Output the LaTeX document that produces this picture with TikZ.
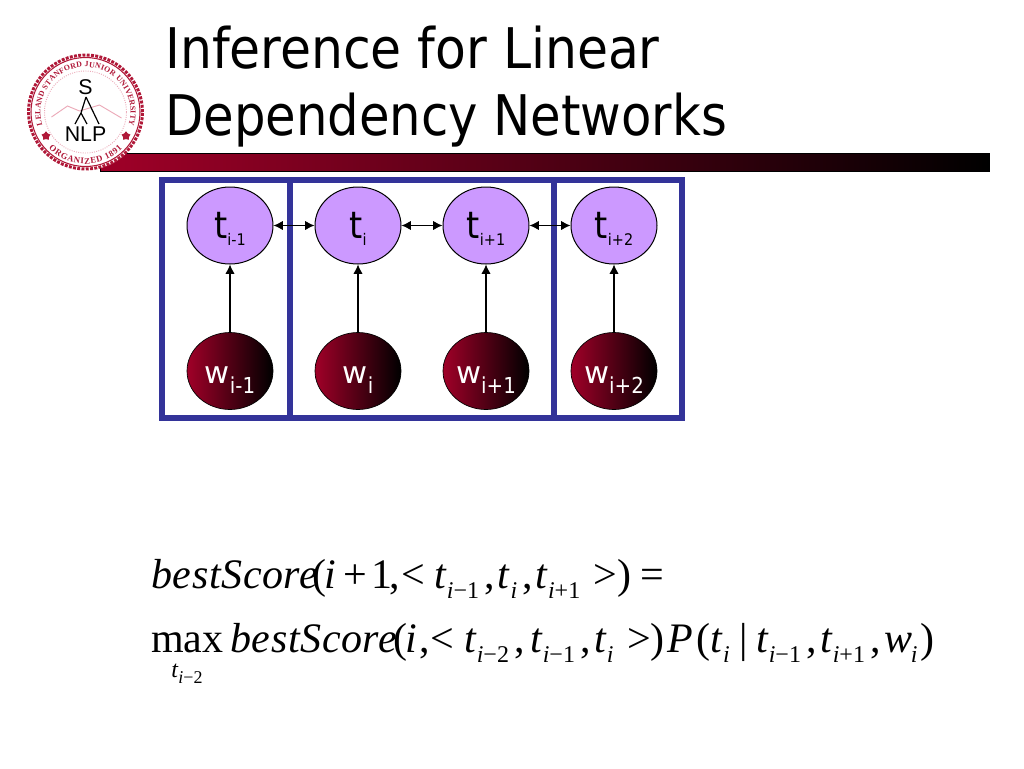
\documentclass[tikz,border=0pt]{standalone}
\usepackage{fontspec}
\usetikzlibrary{arrows.meta}
\usetikzlibrary{shapes.geometric}
\usetikzlibrary{decorations.text}
\newfontfamily\slidefont{DejaVu Sans Condensed}
\newfontfamily\slidewide{DejaVu Sans}
\newfontfamily\slidenarrow[FakeStretch=0.986]{DejaVu Sans Condensed}
\newfontfamily\formulafont{Liberation Serif}
\newfontfamily\formulawide[LetterSpace=1.5]{Liberation Serif}
\newfontfamily\logofont{Liberation Sans}
\newcommand{\pxk}[1]{\kern#1\dimexpr0.75pt\relax}
\newcommand{\fsub}[1]{\raisebox{-7.5pt}{\fontsize{18}{18}\selectfont #1}}
\newcommand{\smi}{\textit{i}}
\newcommand{\itt}{\textit{t}}
\newcommand{\bscore}{{\formulawide\itshape bestScore}}
\newcommand{\tlabel}[2]{\smash{\raisebox{-10.1pt}{\fontsize{28}{28}\selectfont #1\raisebox{-5pt}{\fontsize{12}{12}\selectfont #2}}}}
\newcommand{\wlabel}[2]{\smash{\raisebox{-9pt}{{\slidewide\fontsize{23}{23}\selectfont #1}\raisebox{-7.5pt}{\fontsize{16.5}{16.5}\selectfont #2}}}}
\definecolor{slideblue}{RGB}{51,51,153}
\definecolor{slidepurple}{RGB}{204,153,255}
\definecolor{slidered}{RGB}{160,0,40}
\definecolor{sealred}{RGB}{176,24,56}
\definecolor{sealpink}{RGB}{236,170,185}
\tikzset{
  tagnode/.style={ellipse,draw=black,line width=0.75pt,fill=slidepurple,minimum width=64.5pt,minimum height=57.75pt,inner sep=0pt,text=black,font=\slidefont},
  wordnode/.style={ellipse,draw=black,line width=0.5pt,left color=slidered,middle color=slidered!80!black,right color=black,minimum width=64.5pt,minimum height=57.75pt,inner sep=0pt,text=white,font=\slidefont},
  window/.style={draw=slideblue,line width=5pt},
  link/.style={line width=0.9pt,{Latex[length=7pt,width=7pt]}-{Latex[length=7pt,width=7pt]}},
  emit/.style={line width=0.8pt,-{Latex[length=7pt,width=7pt]}},
  titletext/.style={anchor=base west,inner sep=0pt,font=\slidefont\fontsize{42}{42}\selectfont},
  formula/.style={anchor=base west,inner sep=0pt,font=\formulafont\fontsize{31.5}{31.5}\selectfont},
}
\begin{document}
\begin{tikzpicture}[x=0.75pt,y=0.75pt,yscale=-1,xscale=1]
\useasboundingbox (0,0) rectangle (1024,768);

%Shape: Bar
\draw [draw=black,line width=0.5pt,left color=slidered,middle color=slidered!75!black,right color=black] (100,153.5) rectangle (989.5,171) ;

%Shape: Seal
\begin{scope}[shift={(85.5,112)},yscale=-1]
\fill [white] (0,0) circle (58) ;
\draw [sealred,line width=2.2pt,densely dotted] (0,0) circle (57) ;
\draw [sealred,line width=0.8pt] (0,0) circle (54.5) ;
\draw [sealpink,line width=0.7pt,densely dotted] (0,0) circle (41) ;
\draw [sealpink,line width=0.7pt] (-34,-5) -- (-18,6) -- (-6,1) -- (14,7) -- (36,-6) ;
\path [decorate,decoration={text along path,text align={fit to path},text={|\formulafont\bfseries\fontsize{5.9}{5.9}\selectfont\color{sealred}|LELAND STANFORD JUNIOR UNIVERSITY}}] (197:45) arc (197:-17:45) ;
\path [decorate,decoration={text along path,text align={fit to path},text={|\formulafont\bfseries\fontsize{6.5}{6.5}\selectfont\color{sealred}|ORGANIZED 1891}}] (225:52) arc (225:315:52) ;
\draw [black,line width=0.9pt] (0.5,15) -- (13.5,-12) (0.5,15) -- (-4.5,-1) (-4.5,-1) -- (-10.5,-12) (-4.5,-1) -- (1.5,-12) ;
\node (sealS) at (0,25) [inner sep=0pt,text=black,font=\logofont\fontsize{16}{16}\selectfont] {S};
\node (sealNLP) at (0,-22) [inner sep=0pt,text=black,font=\logofont\fontsize{16}{16}\selectfont] {NLP};
\node (starL) at (-39.5,-24) [star,star points=5,fill=sealred,minimum size=7pt,inner sep=0pt] {};
\node (starR) at (40.5,-24) [star,star points=5,fill=sealred,minimum size=7pt,inner sep=0pt] {};
\end{scope}

% Text Node
\node (titleA) at (165,68) [titletext] {Inference for Linear};
% Text Node
\node (titleB) at (165,135) [titletext,font=\slidenarrow\fontsize{42}{42}\selectfont] {Dependency Networks};

%Shape: Rectangle
\draw [window] (162,180) rectangle (290,418) ;
\draw [window] (290,180) rectangle (554,418) ;
\draw [window] (554,180) rectangle (682,418) ;

%Shape: Ellipse
\node (tA) at (230,225.5) [tagnode] {\tlabel{t}{i-1}};
\node (tB) at (358,225.5) [tagnode] {\tlabel{t}{i}};
\node (tC) at (486,225.5) [tagnode] {\tlabel{t}{i+1}};
\node (tD) at (614,225.5) [tagnode] {\tlabel{t}{i+2}};
\node (wA) at (230,371) [wordnode] {\wlabel{w}{i-1}};
\node (wB) at (358,371) [wordnode] {\wlabel{w}{i}};
\node (wC) at (486,371) [wordnode] {\wlabel{w}{i+1}};
\node (wD) at (614,371) [wordnode] {\wlabel{w}{i+2}};

%Straight Lines
\draw [link] (tA) -- (tB) ;
\draw [link] (tB) -- (tC) ;
\draw [link] (tC) -- (tD) ;
\draw [emit] (wA) -- (tA) ;
\draw [emit] (wB) -- (tB) ;
\draw [emit] (wC) -- (tC) ;
\draw [emit] (wD) -- (tD) ;

% Text Node
\node (scoreA) at (151,588) [formula] {\bscore\pxk{-5.7}(\pxk{-2}\smi\pxk{8}+\pxk{3.5}1\pxk{-2.5},\pxk{1.5}<\pxk{9}\itt\fsub{\smi−1}\pxk{5},\pxk{2.5}\itt\pxk{1}\fsub{\smi}\pxk{5.3},\pxk{2.5}\itt\fsub{\smi+1}\pxk{13}>\pxk{0.3})\pxk{9}=};
% Text Node
\node (scoreB) at (151,652) [formula] {max\pxk{6.7}\bscore\pxk{-3.7}(\pxk{-2}\smi\pxk{2.3},\pxk{0.5}<\pxk{10.3}\itt\fsub{\smi−2}\pxk{5.8},\pxk{5}\itt\fsub{\smi−1}\pxk{5.8},\pxk{3}\itt\fsub{\smi}\pxk{14.1}>\pxk{-0.7})\pxk{3}\textit{P}\pxk{2.8}(\pxk{0.5}\itt\fsub{\smi}\pxk{9.6}|\pxk{8.6}\itt\fsub{\smi−1}\pxk{5.3},\pxk{3.5}\itt\fsub{\smi+1}\pxk{5.3},\pxk{3.5}\textit{w}\pxk{-1.5}\fsub{\smi}\pxk{3.3})};
% Text Node
\node (scoreC) at (171,677) [anchor=base west,inner sep=0pt,font=\formulafont\fontsize{18}{18}\selectfont] {\itt\raisebox{-4.5pt}{\fontsize{13.5}{13.5}\selectfont\smi−2}};

\end{tikzpicture}
\end{document}
